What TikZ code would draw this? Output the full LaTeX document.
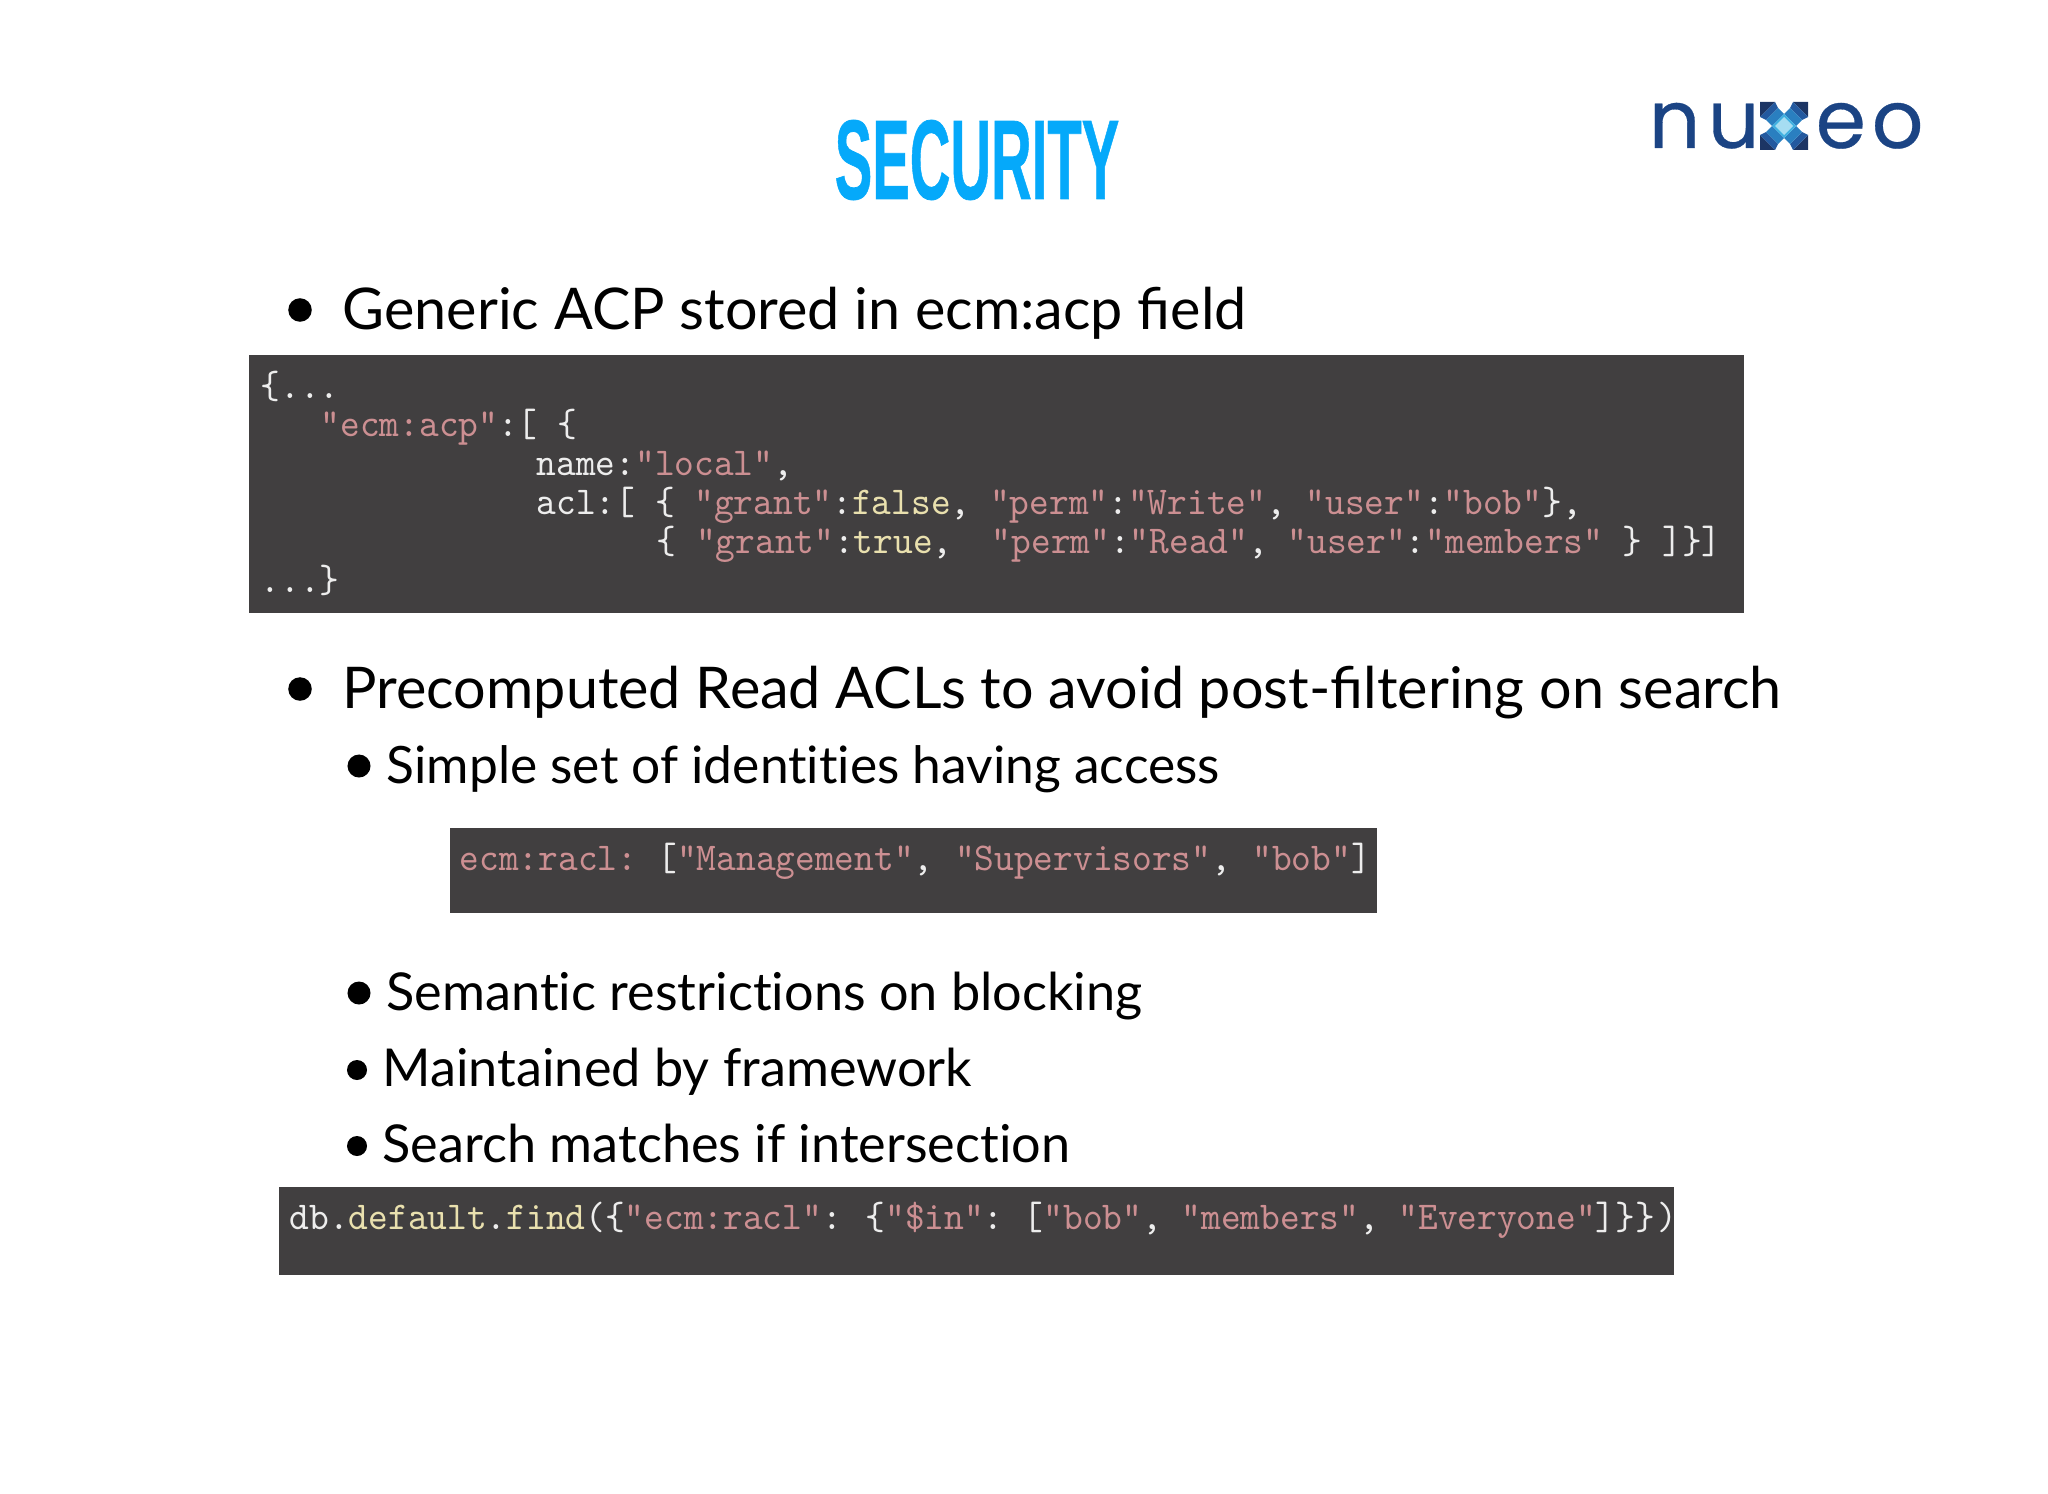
\documentclass[tikz,border=0pt]{standalone}
\usepackage{fontspec}
\usetikzlibrary{positioning}
\setmainfont{Lato}
\newfontfamily\titlefont[FakeBold=0.7]{Liberation Sans Bold}
\newfontfamily\logofont[FakeBold=0.35]{Poppins}
\definecolor{SlideCyan}{HTML}{05A9FA}
\definecolor{CodeBack}{HTML}{413F40}
\definecolor{CodePink}{HTML}{CC8F92}
\definecolor{CodeCream}{HTML}{E9E0AE}
\definecolor{CodeWhite}{HTML}{EDEDED}
\definecolor{LogoBlue}{HTML}{1B4484}
\definecolor{LogoNavy}{HTML}{1C3564}
\definecolor{LogoDeep}{HTML}{23599F}
\definecolor{LogoMid}{HTML}{2A7FC0}
\definecolor{LogoSky}{HTML}{3FB0E0}
\definecolor{LogoPale}{HTML}{A6DDF2}
\newcommand{\cstr}[1]{\textcolor{CodePink}{#1}}
\newcommand{\cval}[1]{\textcolor{CodeCream}{#1}}
\tikzset{
  textline/.style={anchor=base west, inner sep=0pt, text=black, font=\fontsize{16.35}{20}\selectfont},
  subline/.style={textline, font=\fontsize{14.85}{18}\selectfont},
  sublinenarrow/.style={textline, font=\fontsize{14.65}{18}\selectfont},
  codeline/.style={anchor=base west, inner sep=0pt, text=CodeWhite, yscale=1.05, transform shape, font=\ttfamily\fontsize{10.68}{12}\selectfont},
  codeback/.style={fill=CodeBack},
  dot/.style={circle, fill=black, inner sep=0pt, minimum size=#1},
  logoletter/.style={anchor=base west, inner sep=0pt, text=LogoBlue, font=\logofont\fontsize{23}{26}\selectfont}
}
\begin{document}
\begin{tikzpicture}[x=0.01cm, y=-0.01cm]
  \useasboundingbox (0,0) rectangle (2048,1494);

  % Title
  \node[anchor=base, inner sep=0pt, text=SlideCyan, font=\titlefont\fontsize{32.2}{34}\selectfont, xscale=0.497, transform shape] (title) at (977,199) {SECURITY};

  % Logo
  \node[logoletter] (logoN) at (1648,148) {n};
  \node[logoletter] (logoU) at (1707,148) {u};
  \node[logoletter] (logoE) at (1815,148) {e};
  \node[logoletter] (logoO) at (1871,148) {o};
  \foreach \a in {0,90,180,270} {
    \begin{scope}[shift={(1784,126)}, rotate=\a]
      \fill[LogoNavy] (-24,-24) -- (-9,-24) -- (-24,-9) -- cycle;
      \fill[LogoDeep] (-9,-24) -- (-24,-9) -- (-18,-6) -- (-6,-18) -- cycle;
      \fill[LogoMid] (-18,-6) -- (-6,-18) -- (0,-12) -- (-12,0) -- cycle;
      \fill[LogoSky] (0,-12) -- (-12,0) -- (0,0) -- cycle;
    \end{scope}
  }
  \fill[LogoPale] (1784,117) -- (1793,126) -- (1784,135) -- (1775,126) -- cycle;

  % First bullet and code block
  \node[dot=23.5*0.2845pt] (dotA) at (300,310) {};
  \node[textline] (acpText) at (342,330) {Generic ACP stored in ecm:acp field};
  \fill[codeback] (249,355) rectangle (1744,613);
  \node[codeline] (acpA) at (260,398) {\{...};
  \node[codeline] (acpB) at (320,436) {\cstr{"ecm:acp"}:[ \{};
  \node[codeline] (acpC) at (536,475) {name:\cstr{"local"},};
  \node[codeline] (acpD) at (536,514) {acl:[ \{ \cstr{"grant"}:\cval{false}, \cstr{"perm"}:\cstr{"Write"}, \cstr{"user"}:\cstr{"bob"}\},};
  \node[codeline] (acpE) at (656,553) {\{ \cstr{"grant"}:\cval{true},\ \ \cstr{"perm"}:\cstr{"Read"}, \cstr{"user"}:\cstr{"members"} \} ]\}]};
  \node[codeline] (acpF) at (260,592) {...\}};

  % Second bullet
  \node[dot=23.5*0.2845pt] (dotB) at (300,689) {};
  \node[textline] (raclText) at (342,708) {Precomputed Read ACLs to avoid post-filtering on search};
  \node[dot=23*0.2845pt] (dotC) at (359,766) {};
  \node[sublinenarrow] (subA) at (386,783) {Simple set of ident\kern0pt it\kern0pt ies having access};

  % Identities block
  \fill[codeback] (450,828) rectangle (1377,913);
  \node[codeline] (raclCode) at (459,870) {\cstr{ecm:racl:} \hspace{-1.7pt}[\cstr{"Management"}, \hspace{.5pt}\cstr{"Supervisors"}, \hspace{.5pt}\cstr{"bob"}]};

  % Remaining sub-bullets
  \node[dot=23*0.2845pt] (dotD) at (359,993) {};
  \node[subline] (subB) at (386,1010) {Semant\kern0pt ic restrict\kern0pt ions on blocking};
  \node[dot=20*0.2845pt] (dotE) at (357,1070) {};
  \node[subline] (subC) at (382,1086) {Maintained by framework};
  \node[dot=20*0.2845pt] (dotF) at (357,1146) {};
  \node[subline] (subD) at (382,1162) {Search matches if intersect\kern0pt ion};

  % Query block
  \fill[codeback] (279,1187) rectangle (1674,1275);
  \node[codeline] (queryCode) at (289,1229) {db.\cval{default}.\cval{find}(\{\cstr{"ecm:racl"}: \hspace{-.7pt}\{\cstr{"\$in"}: \hspace{-1.7pt}[\cstr{"bob"}, \cstr{"members"}, \cstr{"Everyone"}]\}\}\kern.8pt)};
\end{tikzpicture}
\end{document}
